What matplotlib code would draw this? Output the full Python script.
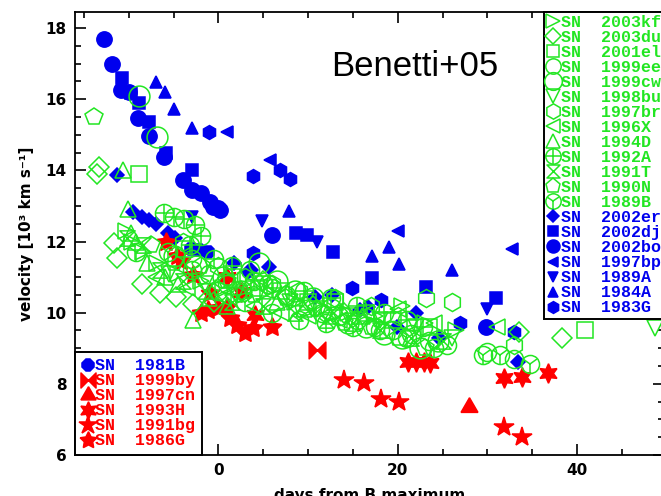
import numpy as np
import matplotlib.pyplot as plt
from matplotlib.path import Path
from matplotlib.ticker import MultipleLocator

# ---- green SNe (open symbols) : days from B max, velocity [1e3 km/s]
sn2003kf_d = [-10.3, -9.6, -8.4, -6.8, -4.5, -2.0, 0.5, 3.0, 5.5, 8.5, 11.5, 14.5, 17.5, 20.5, 23.0, 26.5]
sn2003kf_v = [12.3, 12.0, 11.7, 11.4, 11.1, 10.9, 10.7, 10.5, 10.6, 10.3, 10.1, 10.0, 9.9, 10.2, 9.7, 9.5]
sn2003du_d = [-13.3, -13.6, -11.7, -11.3, -8.5, -6.5, -4.7, -2.8, -0.5, 2.5, 5.0, 7.5, 10.5, 14.0, 33.5, 38.3]
sn2003du_v = [14.1, 13.9, 11.95, 11.55, 10.8, 10.55, 10.45, 10.25, 10.3, 10.6, 10.9, 10.5, 10.2, 10.0, 9.45, 9.3]
sn2001el_d = [-8.9, -3.8, 1.5, 4.5, 7.0, 10.0, 13.0, 16.5, 19.5, 23.5, 40.9]
sn2001el_v = [13.9, 11.8, 11.0, 10.7, 10.6, 10.3, 10.3, 10.0, 9.8, 9.6, 9.5]
sn1999ee_d = [-3.0, -1.0, 1.0, 3.5, 5.5, 7.5, 9.5, 11.5, 13.5, 15.5, 17.5, 19.5, 21.5, 23.5, 25.5, 30.0, 33.0]
sn1999ee_v = [11.5, 11.1, 10.8, 11.2, 10.8, 10.5, 10.2, 10.0, 9.9, 9.8, 9.6, 9.5, 9.4, 9.2, 9.1, 8.9, 8.7]
sn1999cw_d = [-8.9, -6.8, -5.0, -2.5, 0.5, 2.5, 4.5, 6.5, 8.5, 10.5, 12.5, 14.5, 16.5, 18.5, 20.5, 22.5, 24.5]
sn1999cw_v = [16.1, 14.95, 11.6, 11.3, 11.0, 10.6, 11.4, 10.9, 10.6, 10.4, 10.1, 9.7, 9.6, 9.4, 9.3, 9.0, 9.2]
sn1998bu_d = [-5.5, -1.5, 2.0, 5.0, 8.0, 11.0, 14.5, 18.0, 22.0, 26.0, 48.7]
sn1998bu_v = [11.1, 10.8, 10.5, 10.8, 10.3, 10.1, 9.9, 9.8, 9.6, 9.3, 9.57]
sn1997br_d = [-4.0, 0.0, 3.0, 6.0, 9.0, 13.0, 17.0, 20.0, 23.1, 26.1, 33.0]
sn1997br_v = [12.0, 11.3, 11.0, 10.8, 10.6, 10.4, 10.2, 9.9, 10.4, 10.3, 9.1]
sn1996X_d = [-7.0, -3.5, 0.5, 4.0, 7.0, 10.0, 13.5, 16.5, 20.0, 24.0, 31.1]
sn1996X_v = [11.0, 10.7, 10.4, 10.2, 10.0, 9.9, 9.8, 10.0, 10.1, 9.7, 9.6]
sn1994D_d = [-10.7, -10.1, -9.8, -9.2, -8.0, -6.0, -4.5, -2.8, -1.0, 1.0, 3.5, 6.5, 9.5, 12.5, 16.0]
sn1994D_v = [14.0, 12.9, 12.25, 12.0, 11.4, 11.0, 10.8, 9.8, 10.4, 10.2, 10.9, 10.3, 10.1, 9.9, 9.9]
sn1992A_d = [-6.1, -5.0, -3.8, -2.6, -1.9, -3.2, -0.5, 1.5, 4.0, 6.0, 9.5, 12.5, 15.5, 18.5, 21.0, 22.8]
sn1992A_v = [12.8, 12.7, 12.62, 12.45, 12.15, 11.9, 11.5, 11.3, 10.9, 10.7, 10.6, 10.4, 10.2, 10.0, 9.8, 9.6]
sn1991T_d = [-10.2, -8.4, -6.5, -4.0, -1.5, 1.5, 5.0, 8.5, 12.0, 15.0, 18.0, 21.5, 25.0]
sn1991T_v = [12.1, 11.9, 11.2, 10.9, 10.6, 10.3, 10.2, 10.0, 9.8, 9.7, 9.5, 9.3, 9.2]
sn1990N_d = [-13.9, -7.5, -5.0, -2.0, 1.0, 4.0, 7.5, 11.0, 14.0, 17.0, 20.0, 23.0]
sn1990N_v = [15.5, 11.9, 11.4, 11.3, 10.9, 10.5, 10.4, 10.1, 9.7, 9.6, 9.3, 9.0]
sn1989B_d = [-9.2, -5.6, -3.0, 0.0, 3.0, 6.0, 9.0, 12.0, 15.0, 18.0, 21.0, 24.0, 29.5, 31.4, 34.8]
sn1989B_v = [11.7, 11.7, 11.2, 10.6, 10.3, 10.0, 9.8, 9.7, 9.6, 9.5, 9.3, 9.0, 8.8, 8.8, 8.55]

# ---- blue SNe (filled)
sn2002er_d = [-11.3, -9.5, -8.5, -7.8, -7.0, -5.6, -4.8, 1.7, 3.3, 3.6, 5.6, 10.8, 12.7, 15.8, 16.7, 19.9, 22.0, 24.6, 33.4]
sn2002er_v = [13.87, 12.83, 12.7, 12.6, 12.5, 12.24, 12.1, 11.4, 11.14, 11.2, 11.28, 10.44, 10.5, 10.07, 10.16, 9.6, 9.99, 9.3, 8.6]
sn2002dj_d = [-10.8, -9.7, -8.9, -7.8, -5.9, -3.0, 8.6, 9.9, 12.8, 17.1, 23.1, 31.0]
sn2002dj_v = [16.6, 16.17, 15.9, 15.35, 14.5, 14.0, 12.24, 12.18, 11.7, 10.97, 10.72, 10.41]
sn2002bo_d = [-12.8, -11.9, -10.9, -10.0, -9.0, -7.8, -6.1, -4.0, -2.9, -2.0, -0.9, -0.6, 0.0, 0.2, 6.0, 29.9]
sn2002bo_v = [17.7, 17.0, 16.25, 16.2, 15.47, 14.96, 14.37, 13.72, 13.44, 13.36, 13.1, 12.97, 12.94, 12.88, 12.18, 9.6]
sn1997bp_d = [1.0, 5.8, 20.0, 32.8]
sn1997bp_v = [15.07, 14.3, 12.3, 11.8]
sn1989A_d = [-2.9, 4.9, 11.0, 30.0]
sn1989A_v = [12.69, 12.57, 12.0, 10.1]
sn1984A_d = [-7.0, -6.0, -5.0, -3.0, 7.9, 17.1, 19.0, 20.1, 26.0]
sn1984A_v = [16.48, 16.2, 15.72, 15.19, 12.85, 11.6, 11.84, 11.37, 11.2]
sn1983G_d = [-1.1, 3.9, 6.9, 8.0, 3.9, 14.9, 18.1, 27.0, 33.0]
sn1983G_v = [15.07, 13.84, 14.0, 13.75, 11.67, 10.7, 10.35, 9.7, 9.45]
sn1981B_d = [-3.1, -2.2, -1.2]
sn1981B_v = [11.8, 11.76, 11.7]

# ---- red SNe (filled)
sn1999by_d = [11.0]
sn1999by_v = [8.95]
sn1997cn_d = [27.9]
sn1997cn_v = [7.35]
sn1993H_d = [1.0, 2.5, 4.1, 21.1, 22.0, 22.9, 23.6, 31.8, 33.9, 36.8]
sn1993H_v = [11.0, 10.58, 9.93, 8.61, 8.61, 8.61, 8.58, 8.16, 8.19, 8.3]
sn1991bg_d = [14.0, 16.2, 18.1, 20.1, 31.8, 33.9]
sn1991bg_v = [8.1, 8.02, 7.57, 7.49, 6.79, 6.5]
sn1986G_d = [-5.9, -4.6, -4.2, -2.8, -0.9, -2.0, -1.2, -0.1, 1.0, 1.3, 2.1, 3.0, 3.9, 6.0]
sn1986G_v = [11.98, 11.6, 11.45, 11.06, 10.55, 10.0, 10.07, 10.13, 10.16, 9.85, 9.65, 9.43, 9.57, 9.6]

green = "#22e622"
blue = "#0000ee"
red = "#ff0000"

hourglass = Path([(-1, 1), (1, 1), (-1, -1), (1, -1), (-1, 1)],
                 [Path.MOVETO, Path.LINETO, Path.LINETO, Path.LINETO, Path.CLOSEPOLY])
bowtie = Path([(-1, 1), (-1, -1), (1, 1), (1, -1), (-1, 1)],
              [Path.MOVETO, Path.LINETO, Path.LINETO, Path.LINETO, Path.CLOSEPOLY])

fig = plt.figure(figsize=(6.61, 4.96), dpi=100)
ax = fig.add_axes([75/661, 41/496, 589/661, 443/496])


def plot_sn(d, v, color, markers, ms, filled):
    hs = []
    for m in markers:
        h, = ax.plot(d, v, ls="none", marker=m, ms=ms, mec=color,
                     mfc=color if filled else "none", mew=1.1)
        hs.append(h)
    return tuple(hs) if len(hs) > 1 else hs[0]


# blue first, red, then the open green symbols on top
blue_sets = [
    ("SN  2002er", sn2002er_d, sn2002er_v, ["D"], 7),
    ("SN  2002dj", sn2002dj_d, sn2002dj_v, ["s"], 8),
    ("SN  2002bo", sn2002bo_d, sn2002bo_v, ["o"], 11),
    ("SN  1997bp", sn1997bp_d, sn1997bp_v, ["<"], 9),
    ("SN  1989A", sn1989A_d, sn1989A_v, ["v"], 9),
    ("SN  1984A", sn1984A_d, sn1984A_v, ["^"], 9),
    ("SN  1983G", sn1983G_d, sn1983G_v, ["h"], 10),
]
red_sets = [
    ("SN  1999by", sn1999by_d, sn1999by_v, [bowtie], 12),
    ("SN  1997cn", sn1997cn_d, sn1997cn_v, [(3, 1, 0)], 14),
    ("SN  1993H", sn1993H_d, sn1993H_v, [(6, 1, 0)], 14),
    ("SN  1991bg", sn1991bg_d, sn1991bg_v, ["*"], 15),
    ("SN  1986G", sn1986G_d, sn1986G_v, [(5, 1, 0)], 14),
]
green_sets = [
    ("SN  2003kf", sn2003kf_d, sn2003kf_v, [">"], 12),
    ("SN  2003du", sn2003du_d, sn2003du_v, ["D"], 10),
    ("SN  2001el", sn2001el_d, sn2001el_v, ["s"], 11),
    ("SN  1999ee", sn1999ee_d, sn1999ee_v, ["o"], 13),
    ("SN  1999cw", sn1999cw_d, sn1999cw_v, ["o"], 15),
    ("SN  1998bu", sn1998bu_d, sn1998bu_v, ["v"], 12),
    ("SN  1997br", sn1997br_d, sn1997br_v, ["h"], 13),
    ("SN  1996X", sn1996X_d, sn1996X_v, ["<"], 12),
    ("SN  1994D", sn1994D_d, sn1994D_v, ["^"], 12),
    ("SN  1992A", sn1992A_d, sn1992A_v, ["o", "+"], 13),
    ("SN  1991T", sn1991T_d, sn1991T_v, [hourglass], 11),
    ("SN  1990N", sn1990N_d, sn1990N_v, ["p"], 13),
    ("SN  1989B", sn1989B_d, sn1989B_v, ["o", "1"], 13),
]

blue_h = [plot_sn(d, v, blue, m, s, True) for _, d, v, m, s in blue_sets]
b81 = plot_sn(sn1981B_d, sn1981B_v, blue, ["8"], 10, True)
red_h = [plot_sn(d, v, red, m, s, True) for _, d, v, m, s in red_sets]
green_h = [plot_sn(d, v, green, m, s, False) for _, d, v, m, s in green_sets]

ax.set_xlim(-16, 49.7)
ax.set_ylim(6, 18.45)
ax.xaxis.set_major_locator(MultipleLocator(20))
ax.xaxis.set_minor_locator(MultipleLocator(5))
ax.yaxis.set_major_locator(MultipleLocator(2))
ax.yaxis.set_minor_locator(MultipleLocator(0.5))
ax.tick_params(which="both", direction="in", top=True, right=True, width=1.2)
ax.tick_params(which="major", length=8, labelsize=11, pad=6)
ax.tick_params(which="minor", length=4)
for lab in ax.get_xticklabels() + ax.get_yticklabels():
    lab.set_fontweight("bold")
for sp in ax.spines.values():
    sp.set_linewidth(1.3)

ax.set_xlabel("days from B maximum", fontsize=11, fontweight="bold", labelpad=7)
ax.set_ylabel("velocity [10³ km s⁻¹]", fontsize=11, fontweight="bold", labelpad=8)

ax.text(0.435, 0.855, "Benetti+05", transform=ax.transAxes, fontsize=25,
        family="Liberation Sans", va="baseline")

legfont = {"family": "Liberation Mono", "weight": "bold", "size": 12}

leg1 = ax.legend(green_h + blue_h,
                 [s[0] for s in green_sets] + [s[0] for s in blue_sets],
                 loc="upper right", borderaxespad=0, prop=legfont,
                 handlelength=0.7, handletextpad=0.1, labelspacing=0.0,
                 borderpad=0.2, markerscale=0.85, fancybox=False, framealpha=1,
                 edgecolor="black")
leg1.get_frame().set_linewidth(1.4)
for t, c in zip(leg1.get_texts(), [green]*len(green_sets) + [blue]*len(blue_sets)):
    t.set_color(c)
ax.add_artist(leg1)

leg2 = ax.legend([b81] + red_h, ["SN  1981B"] + [s[0] for s in red_sets],
                 loc="lower left", borderaxespad=0, prop=legfont,
                 handlelength=0.7, handletextpad=0.1, labelspacing=0.0,
                 borderpad=0.4, markerscale=0.9, fancybox=False, framealpha=1,
                 edgecolor="black")
leg2.get_frame().set_linewidth(1.4)
for t, c in zip(leg2.get_texts(), [blue] + [red]*len(red_sets)):
    t.set_color(c)

fig.savefig("out.png", dpi=100)
